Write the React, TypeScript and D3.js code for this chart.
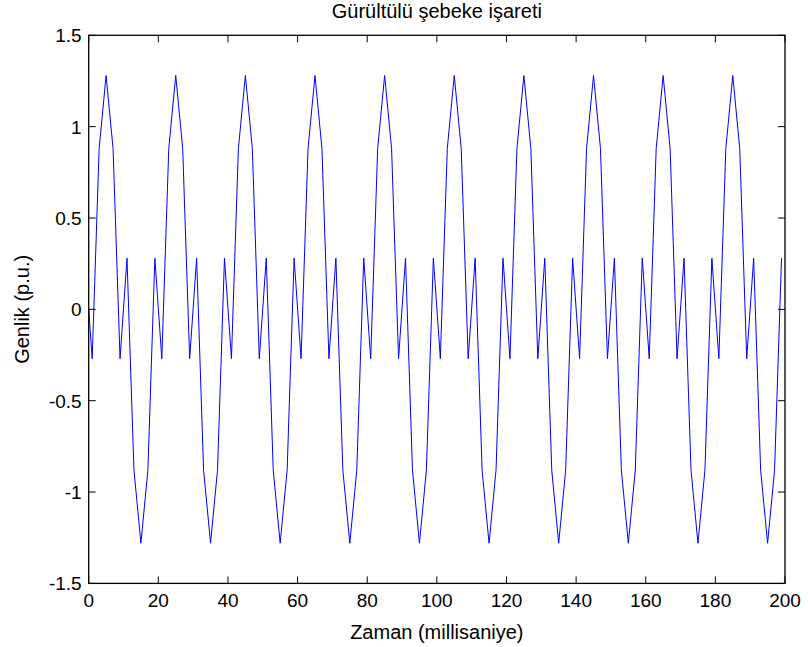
import React from "react";
import * as d3 from "d3";

const timeMs = [
  0,
  1, 3, 5, 7, 9, 11, 13, 15, 17, 19,
  21, 23, 25, 27, 29, 31, 33, 35, 37, 39,
  41, 43, 45, 47, 49, 51, 53, 55, 57, 59,
  61, 63, 65, 67, 69, 71, 73, 75, 77, 79,
  81, 83, 85, 87, 89, 91, 93, 95, 97, 99,
  101, 103, 105, 107, 109, 111, 113, 115, 117, 119,
  121, 123, 125, 127, 129, 131, 133, 135, 137, 139,
  141, 143, 145, 147, 149, 151, 153, 155, 157, 159,
  161, 163, 165, 167, 169, 171, 173, 175, 177, 179,
  181, 183, 185, 187, 189, 191, 193, 195, 197, 199,
];

const amplitude = [
  0,
  -0.27, 0.88, 1.28, 0.88, -0.27, 0.28, -0.88, -1.28, -0.88, 0.28,
  -0.27, 0.88, 1.28, 0.88, -0.27, 0.28, -0.88, -1.28, -0.88, 0.28,
  -0.27, 0.88, 1.28, 0.88, -0.27, 0.28, -0.88, -1.28, -0.88, 0.28,
  -0.27, 0.88, 1.28, 0.88, -0.27, 0.28, -0.88, -1.28, -0.88, 0.28,
  -0.27, 0.88, 1.28, 0.88, -0.27, 0.28, -0.88, -1.28, -0.88, 0.28,
  -0.27, 0.88, 1.28, 0.88, -0.27, 0.28, -0.88, -1.28, -0.88, 0.28,
  -0.27, 0.88, 1.28, 0.88, -0.27, 0.28, -0.88, -1.28, -0.88, 0.28,
  -0.27, 0.88, 1.28, 0.88, -0.27, 0.28, -0.88, -1.28, -0.88, 0.28,
  -0.27, 0.88, 1.28, 0.88, -0.27, 0.28, -0.88, -1.28, -0.88, 0.28,
  -0.27, 0.88, 1.28, 0.88, -0.27, 0.28, -0.88, -1.28, -0.88, 0.28,
];

const xTicks = [0, 20, 40, 60, 80, 100, 120, 140, 160, 180, 200];
const yTicks = [-1.5, -1, -0.5, 0, 0.5, 1, 1.5];

const titleText = "Gürültülü şebeke işareti";
const xLabelText = "Zaman (millisaniye)";
const yLabelText = "Genlik (p.u.)";

const W = 808;
const H = 647;
const L = 88.7;
const R = 785;
const T = 35.3;
const B = 583.4;
const TICK = 7;
const FONT = "'Liberation Sans', Arial, Helvetica, sans-serif";
const FS_TICK = 19;
const FS_LABEL = 20;
const FS_TITLE = 20;

export default function App() {
  const x = d3.scaleLinear().domain([0, 200]).range([L, R]);
  const y = d3.scaleLinear().domain([-1.5, 1.5]).range([B, T]);
  const pts = timeMs.map((t, i) => [t, amplitude[i]] as [number, number]);
  const line = d3
    .line<[number, number]>()
    .x((d) => x(d[0]))
    .y((d) => y(d[1]));

  const fmt = (v: number) => String(v);

  return (
    <svg
      width={W}
      height={H}
      style={{ position: "absolute", left: 0, top: 0, background: "#fff" }}
      fontFamily={FONT}
    >
      <rect x={0} y={0} width={W} height={H} fill="#fff" />
      <path d={line(pts) || ""} fill="none" stroke="#0000ff" strokeWidth={1} />
      <rect x={L} y={T} width={R - L} height={B - T} fill="none" stroke="#000" strokeWidth={1.3} />
      {xTicks.map((v) => (
        <g key={"xt" + v}>
          <line x1={x(v)} x2={x(v)} y1={B} y2={B - TICK} stroke="#000" strokeWidth={1} />
          <line x1={x(v)} x2={x(v)} y1={T} y2={T + TICK} stroke="#000" strokeWidth={1} />
          <text x={x(v)} y={B + 24} fontSize={FS_TICK} textAnchor="middle" fill="#000">
            {fmt(v)}
          </text>
        </g>
      ))}
      {yTicks.map((v) => (
        <g key={"yt" + v}>
          <line x1={L} x2={L + TICK} y1={y(v)} y2={y(v)} stroke="#000" strokeWidth={1} />
          <line x1={R} x2={R - TICK} y1={y(v)} y2={y(v)} stroke="#000" strokeWidth={1} />
          <text x={L - 7} y={y(v) + 7} fontSize={FS_TICK} textAnchor="end" fill="#000">
            {fmt(v)}
          </text>
        </g>
      ))}
      <text x={(L + R) / 2} y={18} fontSize={FS_TITLE} textAnchor="middle" fill="#000">
        {titleText}
      </text>
      <text x={(L + R) / 2} y={639} fontSize={FS_LABEL} textAnchor="middle" fill="#000">
        {xLabelText}
      </text>
      <text
        transform={`translate(29, ${(T + B) / 2}) rotate(-90)`}
        fontSize={FS_LABEL}
        textAnchor="middle"
        fill="#000"
      >
        {yLabelText}
      </text>
    </svg>
  );
}
